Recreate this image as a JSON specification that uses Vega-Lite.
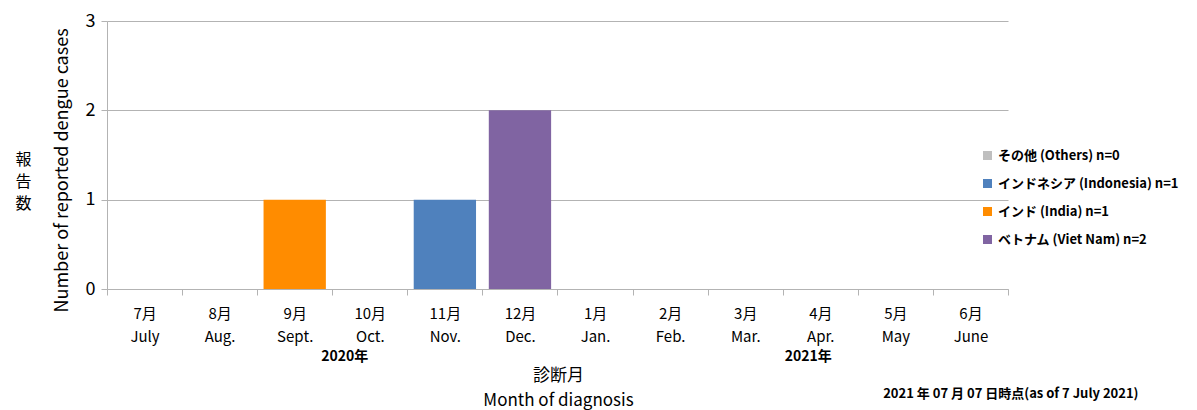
{
  "$schema": "https://vega.github.io/schema/vega-lite/v6.json",
  "width": 901,
  "height": 268,
  "autosize": {"type": "none"},
  "padding": {"left": 107, "top": 21, "right": 189, "bottom": 121},
  "data": {
    "values": [
      {"month": "9月|Sept.", "country": "インド (India) n=1", "cases": 1},
      {"month": "11月|Nov.", "country": "インドネシア (Indonesia) n=1", "cases": 1},
      {"month": "12月|Dec.", "country": "ベトナム (Viet Nam) n=2", "cases": 2}
    ]
  },
  "layer": [
    {
      "mark": {"type": "bar", "width": {"band": 0.83}},
      "encoding": {
        "x": {
          "field": "month",
          "type": "nominal",
          "sort": null,
          "scale": {
            "domain": ["7月|July", "8月|Aug.", "9月|Sept.", "10月|Oct.", "11月|Nov.", "12月|Dec.", "1月|Jan.", "2月|Feb.", "3月|Mar.", "4月|Apr.", "5月|May", "6月|June"],
            "paddingInner": 0,
            "paddingOuter": 0
          },
          "axis": {
            "orient": "bottom",
            "labelExpr": "split(datum.label, '|')",
            "labelAngle": 0,
            "labelFontSize": 15,
            "labelLineHeight": 23,
            "labelPadding": 11,
            "labelColor": "#000",
            "tickBand": "extent",
            "tickSize": 6,
            "tickColor": "#b3b3b3",
            "domainColor": "#b3b3b3",
            "grid": false,
            "title": ["診断月", "Month of diagnosis"],
            "titleFontSize": 17,
            "titleFontWeight": "normal",
            "titleLineHeight": 25,
            "titleX": 451,
            "titleY": 78,
            "titleBaseline": "top",
            "titleAlign": "center",
            "titleColor": "#000"
          }
        },
        "y": {
          "field": "cases",
          "type": "quantitative",
          "scale": {"domain": [0, 3]},
          "axis": {
            "orient": "left",
            "values": [0, 1, 2, 3],
            "format": "d",
            "labelFontSize": 18,
            "labelPadding": 6,
            "labelColor": "#000",
            "tickSize": 6,
            "tickColor": "#b3b3b3",
            "domainColor": "#b3b3b3",
            "gridColor": "#b3b3b3",
            "title": "Number of reported dengue cases",
            "titleFontSize": 18,
            "titleFontWeight": "normal",
            "titleAngle": -90,
            "titleX": -45,
            "titleY": 149,
            "titleAlign": "center",
            "titleBaseline": "middle",
            "titleColor": "#000"
          }
        },
        "color": {
          "field": "country",
          "type": "nominal",
          "scale": {
            "domain": ["その他 (Others) n=0", "インドネシア (Indonesia) n=1", "インド (India) n=1", "ベトナム (Viet Nam) n=2"],
            "range": ["#bfbfbf", "#4f81bd", "#ff8c00", "#8064a2"]
          },
          "legend": {
            "orient": "none",
            "legendX": 874,
            "legendY": 128,
            "title": null,
            "symbolType": "square",
            "symbolSize": 81,
            "symbolStrokeWidth": 0,
            "symbolOpacity": 1,
            "labelFontSize": 13,
            "labelFontWeight": "bold",
            "labelColor": "#000",
            "labelOffset": 4,
            "labelLimit": 300,
            "rowPadding": 14
          }
        }
      }
    },
    {
      "mark": {"type": "bar", "opacity": 0, "width": {"band": 0.83}},
      "encoding": {
        "x": {
          "field": "month",
          "type": "nominal",
          "sort": null,
          "axis": {
            "orient": "bottom",
            "labelExpr": "datum.value == '10月|Oct.' ? '2020年' : datum.value == '4月|Apr.' ? '2021年' : ''",
            "labelOffset": {"condition": {"test": "datum.value == '10月|Oct.'", "value": -25}, "value": -12},
            "labelAngle": 0,
            "labelFontSize": 14,
            "labelFontWeight": "bold",
            "labelPadding": 60,
            "labelColor": "#000",
            "labelOverlap": false,
            "ticks": false,
            "domain": false,
            "grid": false,
            "title": "2021 年 07 月 07 日時点(as of 7 July 2021)",
            "titleFontSize": 13,
            "titleFontWeight": "bold",
            "titleX": 1031,
            "titleY": 104,
            "titleAlign": "right",
            "titleBaseline": "middle",
            "titleColor": "#000"
          }
        },
        "y": {
          "field": "cases",
          "type": "quantitative",
          "axis": {
            "orient": "left",
            "labels": false,
            "ticks": false,
            "domain": false,
            "grid": false,
            "title": ["報", "告", "数"],
            "titleFontSize": 16,
            "titleFontWeight": "normal",
            "titleLineHeight": 22,
            "titleAngle": 0,
            "titleX": -84,
            "titleY": 138,
            "titleAlign": "center",
            "titleBaseline": "middle",
            "titleColor": "#000"
          }
        }
      }
    }
  ],
  "resolve": {"axis": {"x": "independent", "y": "independent"}},
  "config": {
    "view": {"stroke": null},
    "font": "Noto Sans CJK JP"
  }
}
